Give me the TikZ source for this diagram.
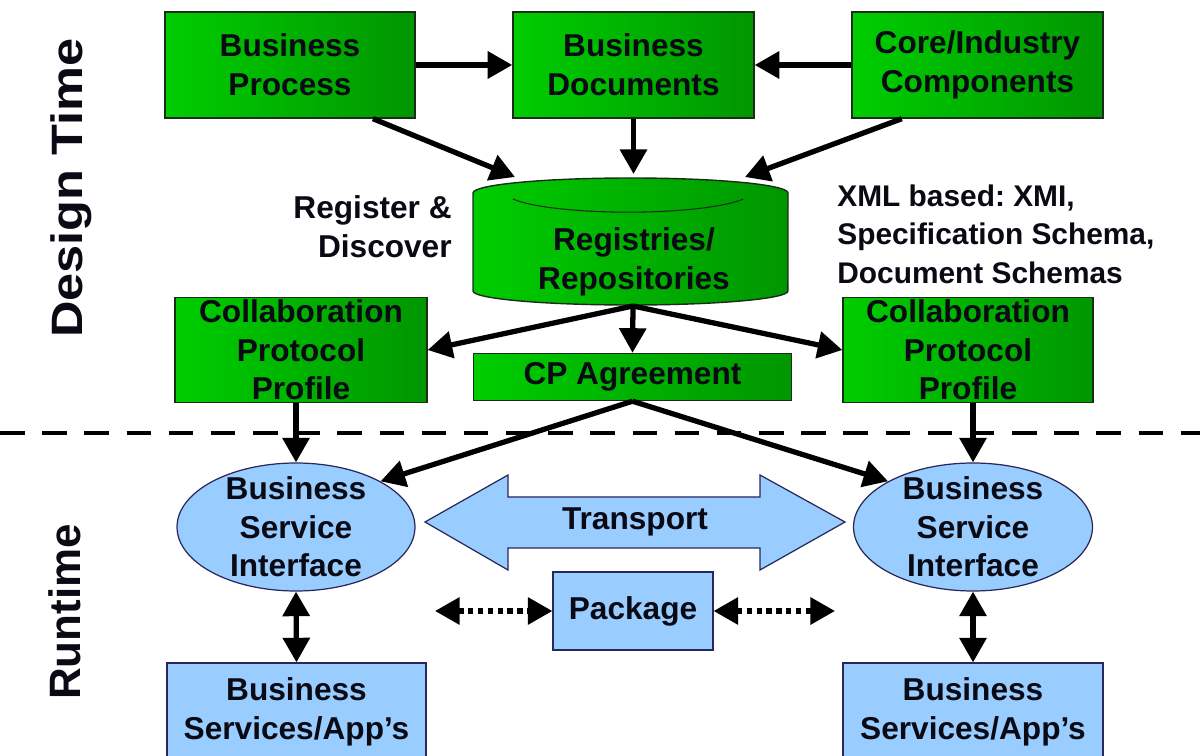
\documentclass[tikz,border=0pt]{standalone}
\usepackage{fontspec}
\setmainfont{Liberation Sans}
\frenchspacing
\usetikzlibrary{arrows.meta,shapes.geometric,calc}
\definecolor{gA}{RGB}{0,205,0}
\definecolor{gB}{RGB}{0,150,0}
\definecolor{gEdge}{RGB}{25,45,25}
\definecolor{bFill}{RGB}{153,204,255}
\definecolor{bEdge}{RGB}{40,40,90}
\definecolor{ink}{RGB}{10,10,20}
\tikzset{
  txt/.style={font=\fontsize{18}{22}\selectfont\bfseries, text=ink, align=center, inner sep=0pt},
  gbox/.style={draw=gEdge, line width=0.8pt, left color=gA, right color=gB, inner sep=0pt, txt},
  bbox/.style={draw=bEdge, line width=0.7pt, fill=bFill, inner sep=0pt, txt},
  tipA/.tip={Triangle[length=14pt,width=15pt]},
  arr/.style={line width=3pt, -tipA},
  darr/.style={line width=3pt, tipA-tipA},
  dotarr/.style={line width=3pt, dash pattern=on 3pt off 2.6pt, tipA-tipA},
  sep/.style={line width=2.4pt, dash pattern=on 14pt off 10pt},
  side/.style={font=\fontsize{25}{30}\selectfont\bfseries, text=ink, rotate=90, anchor=base, inner sep=0pt}
}
\begin{document}
\begin{tikzpicture}[x=0.02cm,y=-0.02cm]
\clip (0,0) rectangle (1200,756);
\fill[white] (0,0) rectangle (1200,756);

% side titles
\node[side] (dt) at (82,188) {\scalebox{1.15}[1]{Design Time}};
\node[side] (rt) at (80,612) {Runtime};

% separator
\coordinate (sepL) at (0,433);
\coordinate (sepR) at (1200,433);
\draw[sep] (sepL) -- (sepR);

% top row
\node[gbox, minimum width=5.0cm, minimum height=2.12cm] (bp) at (290,65) {Business\\Process};
\node[gbox, minimum width=4.82cm, minimum height=2.12cm] (bd) at (633.5,65) {Business\\Documents};
\node[gbox, minimum width=5.02cm, minimum height=2.12cm] (cic) at (977.5,65) {Core/Industry\\Components};

% cylinder
\draw[draw=gEdge, line width=0.8pt, left color=gA, right color=gB]
  (473,193) -- (473,291) arc[start angle=180, end angle=360, x radius=3.15cm, y radius=0.28cm]
  -- (788,193) arc[start angle=0, end angle=180, x radius=3.15cm, y radius=0.3cm] -- cycle;
\draw[gEdge, line width=0.6pt] (513,199) arc[start angle=200, end angle=340, x radius=2.45cm, y radius=0.4cm];
\node[txt] (reg) at (634,262) {Registries/\\Repositories};
\coordinate (regtl) at (515,177);
\coordinate (regt) at (633.5,174);
\coordinate (regtr) at (745,177);
\coordinate (regb) at (633,306);

% side notes
\node[txt, align=right, anchor=east] (rd) at (452,227) {Register \&\\Discover};
\node[txt, font=\fontsize{17}{22}\selectfont\bfseries, align=left, anchor=west] (xml) at (837,234) {XML based: XMI,\\Specification Schema,\\Document Schemas};

% middle row
\node[gbox, minimum width=5.04cm, minimum height=2.1cm,
  label={[txt]center:Collaboration\\Protocol\\Profile}] (cppl) at (301,350) {};
\node[gbox, minimum width=5.0cm, minimum height=2.1cm,
  label={[txt]center:Collaboration\\Protocol\\Profile}] (cppr) at (968,350) {};
\node[gbox, minimum width=6.36cm, minimum height=0.94cm] (cpa) at (632.5,377) {CP Agreement};

% runtime
\node[bbox, ellipse, minimum width=4.76cm, minimum height=2.56cm,
  label={[txt]center:Business\\Service\\Interface}] (bsil) at (296,527) {};
\node[bbox, ellipse, minimum width=4.78cm, minimum height=2.56cm,
  label={[txt]center:Business\\Service\\Interface}] (bsir) at (973,527) {};

\draw[draw=bEdge, line width=0.7pt, fill=bFill]
  (425,522) -- (508,475) -- (508,497) -- (760,497) -- (760,475) -- (845,522)
  -- (760,570) -- (760,548) -- (508,548) -- (508,570) -- cycle;
\node[txt] (tr) at (635,522) {Transport};

\node[bbox, minimum width=3.2cm, minimum height=1.56cm] (pkg) at (633,611) {Package};
\coordinate (dl) at (435,611);
\coordinate (dr) at (835,611);

\node[bbox, minimum width=5.18cm, minimum height=1.96cm] (bsl) at (296.5,712) {Business\\Services/App’s};
\node[bbox, minimum width=5.2cm, minimum height=1.96cm] (bsr) at (973,712) {Business\\Services/App’s};

% connectors
\draw[arr] (bp.east) -- (bd.west);
\draw[arr] (cic.west) -- (bd.east);
\draw[arr] ($(bp.south west)!0.83!(bp.south east)$) -- (regtl);
\draw[arr] (bd.south) -- (regt);
\draw[arr] ($(cic.south west)!0.2!(cic.south east)$) -- (regtr);
\draw[arr] (regb) -- (cppl.east);
\draw[arr] (regb) -- (cpa.north);
\draw[arr] (regb) -- (cppr.west);
\draw[arr] (bsil.north |- cppl.south) -- (bsil.north);
\draw[arr] (bsir.north |- cppr.south) -- (bsir.north);
\draw[arr] (cpa.south) -- (bsil.north east);
\draw[arr] (cpa.south) -- (bsir.north west);
\draw[darr] (bsil.south) -- (bsl.north);
\draw[darr] (bsir.south) -- (bsr.north);
\draw[dotarr] (dl) -- (pkg.west);
\draw[dotarr] (pkg.east) -- (dr);
\end{tikzpicture}
\end{document}
